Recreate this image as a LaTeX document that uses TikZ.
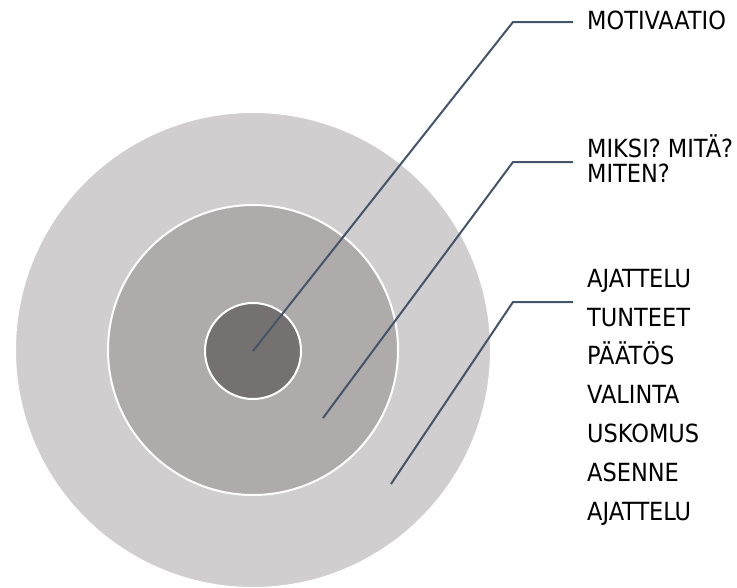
\documentclass[tikz,border=0pt]{standalone}
\usepackage{fontspec}
\setmainfont{DejaVu Sans Condensed}
\definecolor{outerc}{HTML}{D0CECE}
\definecolor{midc}{HTML}{AFABAB}
\definecolor{innerc}{HTML}{767171}
\definecolor{linec}{HTML}{44546A}
\begin{document}
\begin{tikzpicture}[x=1pt,y=-1pt,
  ring/.style={circle,draw=white,line width=2pt,inner sep=0pt,minimum size=#1},
  leader/.style={draw=linec,line width=2pt},
  lbl/.style={anchor=base west,inner sep=0pt,font=\fontsize{25}{25}\selectfont,text=black}]
\useasboundingbox (0,0) rectangle (737,587);
\node[ring=476pt,fill=outerc] (outer) at (253,350) {};
\node[ring=290pt,fill=midc] (middle) at (253,350) {};
\node[ring=96pt,fill=innerc] (inner) at (253,351) {};
% leader points
\coordinate (p1) at (253,351);
\coordinate (k1) at (513,22);
\coordinate (e1) at (573,22);
\coordinate (p2) at (323,418);
\coordinate (k2) at (513,162);
\coordinate (e2) at (573,162);
\coordinate (p3) at (391,484);
\coordinate (k3) at (513,302);
\coordinate (e3) at (573,302);
\draw[leader] (p1) -- (k1) -- (e1);
\draw[leader] (p2) -- (k2) -- (e2);
\draw[leader] (p3) -- (k3) -- (e3);
% labels
\node[lbl] (t1) at (587,29) {MOTIVAATIO};
\node[lbl] (t2a) at (587,157) {MIKSI? MITÄ?};
\node[lbl] (t2b) at (587,182) {MITEN?};
\node[lbl] (l1) at (587,287) {AJATTELU};
\node[lbl] (l2) at (587,326) {TUNTEET};
\node[lbl] (l3) at (587,364) {PÄÄTÖS};
\node[lbl] (l4) at (587,403) {VALINTA};
\node[lbl] (l5) at (587,442) {USKOMUS};
\node[lbl] (l6) at (587,481) {ASENNE};
\node[lbl] (l7) at (587,520) {AJATTELU};
\end{tikzpicture}
\end{document}
